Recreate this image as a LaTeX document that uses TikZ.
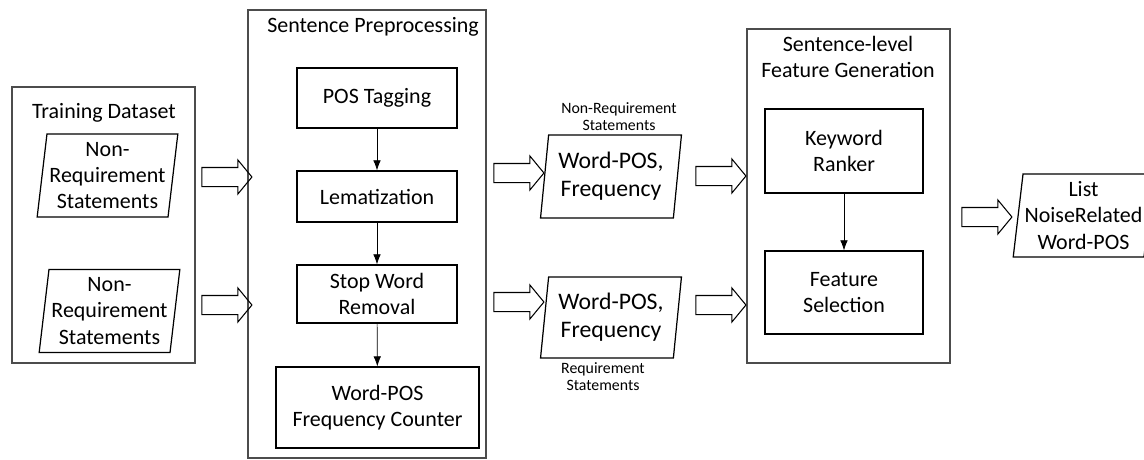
\documentclass[tikz,border=0pt]{standalone}
\usepackage{fontspec}
\setmainfont{Carlito}
\usetikzlibrary{arrows.meta,positioning,shapes.geometric,shapes.arrows}

\begin{document}
\begin{tikzpicture}[x=0.02cm, y=-0.02cm, every node/.style={font=\fontsize{12.5}{15}\selectfont}, >={Latex[length=2mm]},
	grp/.style={draw=black!70, line width=0.7pt, inner sep=0pt},
	blk/.style={draw, line width=0.7pt, minimum width=3.2cm, align=center, inner sep=1pt},
	io/.style={draw, line width=0.7pt, trapezium, trapezium left angle=82, trapezium right angle=98, trapezium stretches=true, minimum width=2.82cm, minimum height=1.66cm, align=center, inner sep=0pt},
	fat/.style={draw, line width=0.6pt, single arrow, single arrow head extend=0.15cm, single arrow tip angle=101, text height=0.18cm, text depth=0.18cm, text width=0pt, inner sep=0pt, minimum height=1cm},
	note/.style={font=\fontsize{9}{9.5}\selectfont, align=center, inner sep=1pt}]
	\useasboundingbox (0,0) rectangle (1144,460);
	\node[grp, minimum width=3.66cm, minimum height=5.52cm] (train) at (103.5,225) {};
	\node[grp, minimum width=4.76cm, minimum height=8.96cm] (prep) at (367,234) {};
	\node[grp, minimum width=4.06cm, minimum height=6.68cm] (feat) at (848.5,196) {};
	\node (trainT) at (104,113) {Training Dataset};
	\node (prepT) at (373,27) {Sentence Preprocessing};
	\node[align=center] (featT) at (848,57) {Sentence-level\\Feature Generation};
	\node[io] (in1) at (107.5,175.5) {Non-\\Requirement\\Statements};
	\node[io] (in2) at (109.5,311) {Non-\\Requirement\\Statements};
	\node[blk, minimum height=1.2cm] (pos) at (377,98) {POS Tagging};
	\node[blk, minimum height=1.02cm] (lem) at (377,196.5) {Lematization};
	\node[blk, minimum height=1.16cm] (stop) at (377,294) {Stop Word\\Removal};
	\node[blk, minimum width=4.06cm, minimum height=1.62cm] (count) at (377.5,407.5) {Word-POS\\Frequency Counter};
	\node[io, font=\fontsize{13.5}{16}\selectfont] (mid1) at (611,176.5) {Word-POS,\\Frequency};
	\node[io, font=\fontsize{13.5}{16}\selectfont, minimum height=1.62cm] (mid2) at (611,317.5) {Word-POS,\\Frequency};
	\node[note, above=1pt of mid1, xshift=0.16cm] (nreq) {Non-Requirement\\Statements};
	\node[note, below=1pt of mid2, xshift=-0.16cm] (req) {Requirement\\Statements};
	\node[blk, minimum width=3.16cm, minimum height=1.68cm] (kw) at (844,151) {Keyword\\Ranker};
	\node[blk, minimum width=3.16cm, minimum height=1.66cm] (fsel) at (844,292.5) {Feature\\Selection};
	\node[io] (out) at (1083.5,215.5) {List\\NoiseRelated\\Word-POS};
	\draw[->] (pos) -- (lem);
	\draw[->] (lem) -- (stop);
	\draw[->] (stop) -- (count);
	\draw[->] (kw) -- (fsel);
	\foreach \n/\x/\y in {ta1/223/177, ta2/223/305, pa1/515/173, pa2/515/302, fa1/717/176, fa2/717/305, oa/983/217} {\node[fat] (\n) at (\x,\y) {};}
\end{tikzpicture}
\end{document}
